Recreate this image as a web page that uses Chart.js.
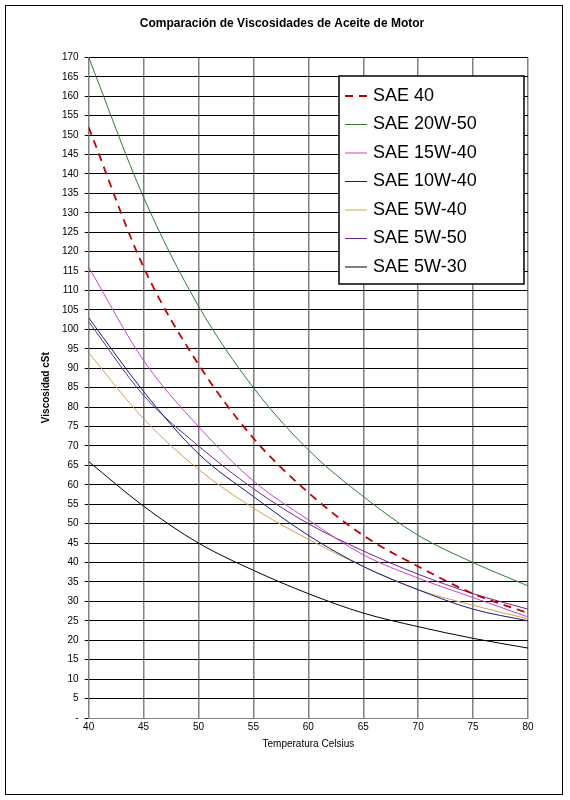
<!DOCTYPE html>
<html>
<head>
<meta charset="utf-8">
<script src="https://cdn.jsdelivr.net/npm/chart.js@4"></script>
<style>
  body { margin: 0; background: #fff; }
  #wrap { position: absolute; left: 5px; top: 5px; width: 558px; height: 790px; border: 1px solid #000; box-sizing: border-box; }
</style>
</head>
<body>
<div id="wrap"><canvas id="chart"></canvas></div>
<script>
// temperaturas (Celsius)
const temps = [40, 45, 50, 55, 60, 65, 70, 75, 80];

// viscosidad cSt
const sae40   = [152, 116, 91, 72, 58, 47, 39, 32, 27];
const sae2050 = [170, 134, 106, 85, 69, 57, 47, 40, 34];
const sae1540 = [116, 92, 75, 61, 51, 42, 36, 31, 26];
const sae1040 = [103, 84, 68, 57, 47, 39, 33, 28, 25];
const sae540  = [94, 77, 64, 54, 46, 39, 33, 29, 25.5];
const sae550  = [102, 83, 70, 59, 50, 43, 37, 32, 28];
const sae530  = [66, 54.5, 45, 38, 32, 27, 23.5, 20.5, 18];

const seriesNames = ['SAE 40', 'SAE 20W-50', 'SAE 15W-40', 'SAE 10W-40', 'SAE 5W-40', 'SAE 5W-50', 'SAE 5W-30'];
const seriesData = [sae40, sae2050, sae1540, sae1040, sae540, sae550, sae530];
const seriesColors = ['#c00000', '#2e7d32', '#cc44cc', '#1a1a80', '#d4a050', '#6a2a8a', '#000000'];

const toPoints = arr => arr.map((v, i) => ({ x: temps[i], y: v }));

// leyenda dibujada dentro del área del gráfico
const boxLegend = {
  id: 'boxLegend',
  afterDraw(chart) {
    const ctx = chart.ctx;
    const x = 333, y = 70, w = 185, h = 208;
    ctx.save();
    ctx.fillStyle = '#fff';
    ctx.fillRect(x, y, w, h);
    ctx.strokeStyle = '#000';
    ctx.lineWidth = 1.5;
    ctx.strokeRect(x, y, w, h);
    ctx.font = '18px Arial, "Liberation Sans", sans-serif';
    ctx.textBaseline = 'middle';
    chart.data.datasets.forEach((ds, i) => {
      const ly = y + 20 + i * 28.5;
      ctx.strokeStyle = ds.borderColor;
      ctx.lineWidth = ds.borderWidth;
      ctx.setLineDash(ds.borderDash || []);
      ctx.beginPath();
      ctx.moveTo(x + 6, ly);
      ctx.lineTo(x + 28, ly);
      ctx.stroke();
      ctx.setLineDash([]);
      ctx.fillStyle = '#000';
      ctx.fillText(ds.label, x + 34, ly);
    });
    ctx.restore();
  }
};

new Chart(document.getElementById('chart'), {
  type: 'line',
  data: {
    datasets: seriesNames.map((name, i) => ({
      label: name,
      data: toPoints(seriesData[i]),
      borderColor: seriesColors[i],
      borderWidth: i === 0 ? 1.8 : 1,
      borderDash: i === 0 ? [8, 6] : [],
      pointRadius: 0,
      cubicInterpolationMode: 'monotone',
      fill: false
    }))
  },
  options: {
    responsive: true,
    maintainAspectRatio: false,
    animation: false,
    layout: { padding: { top: 4, right: 34, bottom: 40, left: 30 } },
    plugins: {
      legend: { display: false },
      tooltip: { enabled: false },
      title: {
        display: true,
        text: 'Comparación de Viscosidades de Aceite de Motor',
        color: '#000',
        font: { family: 'Arial, "Liberation Sans", sans-serif', size: 12, weight: 'bold' },
        padding: { top: 6, bottom: 27 }
      }
    },
    scales: {
      x: {
        type: 'linear',
        min: 40, max: 80,
        ticks: { stepSize: 5, color: '#000', font: { family: 'Arial, "Liberation Sans", sans-serif', size: 10 } },
        grid: { color: '#808080', lineWidth: 1.5, drawTicks: false },
        border: { color: '#808080' },
        title: { display: true, text: 'Temperatura Celsius', color: '#000', font: { family: 'Arial, "Liberation Sans", sans-serif', size: 10 }, padding: { top: 2 } }
      },
      y: {
        min: 0, max: 170,
        ticks: {
          stepSize: 5, color: '#000', padding: 6, autoSkip: false,
          font: { family: 'Arial, "Liberation Sans", sans-serif', size: 10 },
          callback: v => v === 0 ? '-' : v
        },
        grid: { color: '#000', lineWidth: 1, drawTicks: true, tickLength: 4 },
        border: { color: '#808080' },
        title: { display: true, text: 'Viscosidad cSt', color: '#000', font: { family: 'Arial, "Liberation Sans", sans-serif', size: 10, weight: 'bold' } }
      }
    }
  },
  plugins: [boxLegend]
});
</script>
</body>
</html>
